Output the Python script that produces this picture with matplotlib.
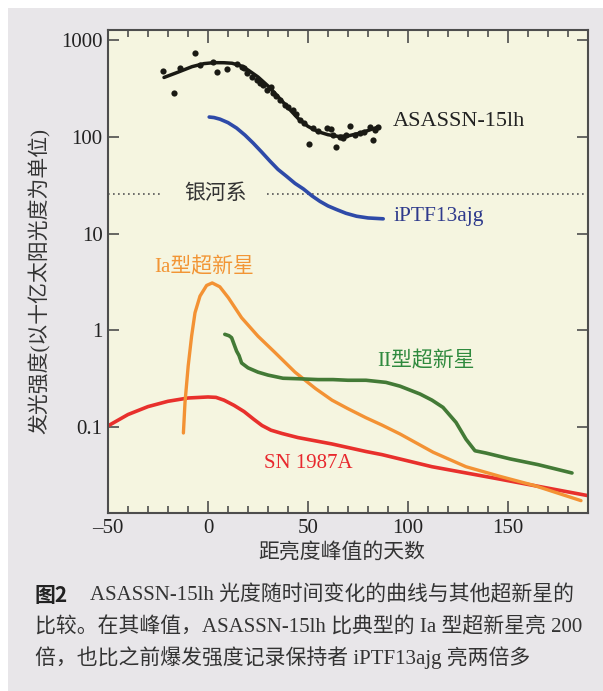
import matplotlib
matplotlib.use("Agg")
import matplotlib.pyplot as plt
from matplotlib.patches import Rectangle

FONTS = ["Liberation Serif", "Noto Sans CJK SC", "DejaVu Sans"]
plt.rcParams["font.family"] = FONTS

# ASASSN-15lh: fitted curve and observed points (days, 1e9 L_sun)
asassn_fit_days = [-22, -15, -8, -2, 3, 8, 12, 16, 20, 25, 30, 35, 40, 45, 50,
                   55, 60, 65, 70, 75, 80, 85]
asassn_fit_lum = [410, 465, 530, 570, 583, 582, 575, 545, 490, 415, 335, 260,
                  200, 155, 128, 113, 105, 101, 102, 108, 116, 126]
asassn_obs_days = [-22.4, -16.9, -14.1, -6.7, -4, 2.6, 4.7, 9.3, 14.6, 16.9, 18,
                   19.3, 21.8, 24.3, 26, 27.7, 29.3, 31.3, 32.6, 34, 36, 38.5,
                   40, 42.6, 44, 46, 48, 50.7, 52.6, 55, 59.4, 61.3, 62.5, 64,
                   65.9, 67.5, 69, 71, 73.5, 76, 78, 81, 82.3, 83.5, 85]
asassn_obs_lum = [479, 286, 519, 735, 552, 590, 464, 501, 566, 531, 510, 454,
                  418, 387, 360, 344, 305, 330, 282, 262, 241, 214, 205, 190,
                  170, 150, 140, 85, 123, 115, 122, 120, 104, 79, 100, 97, 104,
                  128, 105, 109, 112, 126, 92, 118, 126]

iptf_days = [0.6, 3, 6, 10, 14.3, 18.5, 22.6, 26.7, 31, 35, 39.3, 43.5, 47.7,
             52, 56, 60, 64.3, 69, 74.3, 80, 87.6]
iptf_lum = [160, 158, 152, 140, 123, 104, 86, 70, 56, 46, 39, 33, 28.9, 24.5,
            21.5, 19.3, 17.7, 16.2, 15.1, 14.5, 14.2]

ia_days = [-12.3, -11.5, -9.9, -8.2, -6.5, -4, -0.7, 2.1, 5.9, 10.2, 16.8, 25,
           33.5, 43.5, 53.8, 62, 70, 79, 87, 96, 112.6, 129, 146, 163, 186.5]
ia_lum = [0.087, 0.18, 0.43, 0.87, 1.52, 2.26, 2.91, 3.09, 2.82, 2.17, 1.35,
          0.87, 0.59, 0.37, 0.25, 0.19, 0.155, 0.125, 0.105, 0.085, 0.055,
          0.039, 0.031, 0.025, 0.0174]

ii_days = [8.4, 10.5, 11.8, 13, 14.3, 15.5, 16.8, 20, 25, 30, 37.5, 45.5, 55,
           62.5, 70, 79, 89, 96, 106, 112, 117.5, 124, 129, 133.5, 139, 151,
           165, 182]
ii_lum = [0.91, 0.88, 0.84, 0.72, 0.61, 0.55, 0.46, 0.41, 0.37, 0.345, 0.32,
          0.316, 0.31, 0.31, 0.305, 0.305, 0.29, 0.265, 0.22, 0.19, 0.16,
          0.112, 0.075, 0.057, 0.054, 0.047, 0.041, 0.0336]

sn87_days = [-50, -40, -30, -20, -10, 0, 4, 8, 13, 18, 23, 27, 31.5, 37, 45,
             62, 79, 87, 112, 146, 190]
sn87_lum = [0.103, 0.135, 0.163, 0.185, 0.2, 0.205, 0.203, 0.19, 0.168, 0.145,
            0.12, 0.104, 0.093, 0.086, 0.078, 0.067, 0.056, 0.052, 0.039,
            0.029, 0.0196]

milky_way_lum = 25.6

x_ticks = [-50, 0, 50, 100, 150]
x_tick_labels = ["\u201350", "0", "50", "100", "150"]
y_ticks = [0.1, 1, 10, 100, 1000]
y_tick_labels = ["0.1", "1", "10", "100", "1000"]

caption_lines = [
    "ASASSN-15lh 光度随时间变化的曲线与其他超新星的",
    "比较。在其峰值，ASASSN-15lh 比典型的 Ia 型超新星亮 200",
    "倍，也比之前爆发强度记录保持者 iPTF13ajg 亮两倍多",
]

W, H = 603, 691
fig = plt.figure(figsize=(W / 100, H / 100), dpi=100)
fig.patch.set_facecolor("white")
fig.add_artist(Rectangle((8 / W, 0), 1, 1 - 8 / H, transform=fig.transFigure,
                         facecolor="#e8e6e9", edgecolor="none", zorder=-5))

ax = fig.add_axes([108 / W, 1 - 513 / H, 480 / W, 483 / H])
ax.set_facecolor("#f5f5e0")
ax.set_yscale("log")
ax.set_xlim(-50, 190)
ax.set_ylim(0.01297, 1268)

# galaxy reference line
ax.plot([-50, -24], [milky_way_lum] * 2, color="#555555", lw=1.2, ls=(0, (1, 2)))
ax.plot([29.5, 190], [milky_way_lum] * 2, color="#555555", lw=1.2, ls=(0, (1, 2)))
ax.text(4, milky_way_lum, "银河系", ha="center", va="center", fontsize=15,
        color="#333333")

ax.plot(sn87_days, sn87_lum, color="#e8302c", lw=2.6, solid_capstyle="round")
ax.plot(ia_days, ia_lum, color="#f39234", lw=2.4, solid_capstyle="round")
ax.plot(ii_days, ii_lum, color="#437a36", lw=2.6, solid_capstyle="round")
ax.plot(iptf_days, iptf_lum, color="#2e4aa8", lw=2.6, solid_capstyle="round")
ax.plot(asassn_fit_days, asassn_fit_lum, color="#1a1a14", lw=2.5,
        solid_capstyle="round")
ax.scatter(asassn_obs_days, asassn_obs_lum, s=20, color="#1a1a14", zorder=5,
           linewidths=0)

ax.text(92.5, 143, "ASASSN-15lh", ha="left", va="center", fontsize=16,
        color="#222222")
ax.text(92.5, 15, "iPTF13ajg", ha="left", va="center", fontsize=15.5,
        color="#2e3a8c")
ax.text(-2, 4.47, "Ia型超新星", ha="center", va="center", fontsize=15,
        color="#f29535")
ax.text(109, 0.48, "II型超新星", ha="center", va="center", fontsize=15,
        color="#2f8a3e")
ax.text(50, 0.042, "SN 1987A", ha="center", va="center", fontsize=15,
        color="#e8282e")

ax.set_xticks(x_ticks, labels=x_tick_labels)
ax.set_xticks(range(-40, 190, 10), minor=True)
ax.set_yticks(y_ticks, labels=y_tick_labels)
ax.yaxis.set_minor_locator(matplotlib.ticker.NullLocator())
ax.tick_params(axis="both", which="both", direction="in", top=True, right=True,
               colors="#4d4d4d", labelcolor="#222222", labelsize=15, pad=4)
ax.tick_params(axis="x", which="major", length=9, width=1.2)
ax.tick_params(axis="x", which="minor", length=5, width=1.2)
ax.tick_params(axis="y", which="major", length=8, width=1.2)
for spine in ax.spines.values():
    spine.set_color("#4d4d4d")
    spine.set_linewidth(1.5)

fig.text(342 / W, 1 - 553 / H, "距亮度峰值的天数", ha="center", va="center",
         fontsize=15, color="#333333")
fig.text(40 / W, 1 - 281 / H, "发光强度(以十亿太阳光度为单位)", ha="center",
         va="center", rotation=90, fontsize=15, color="#333333")

fig.text(35 / W, 1 - 595 / H, "图2", ha="left", va="center", fontsize=15,
         fontweight="bold", family=["Noto Sans CJK SC", "DejaVu Sans"],
         color="#222222")
fig.text(90 / W, 1 - 595 / H, caption_lines[0], ha="left", va="center",
         fontsize=15, color="#333333")
fig.text(35 / W, 1 - 627 / H, caption_lines[1], ha="left", va="center",
         fontsize=15, color="#333333")
fig.text(35 / W, 1 - 658 / H, caption_lines[2], ha="left", va="center",
         fontsize=15, color="#333333")

fig.savefig("out.png", dpi=100, facecolor=fig.get_facecolor())
